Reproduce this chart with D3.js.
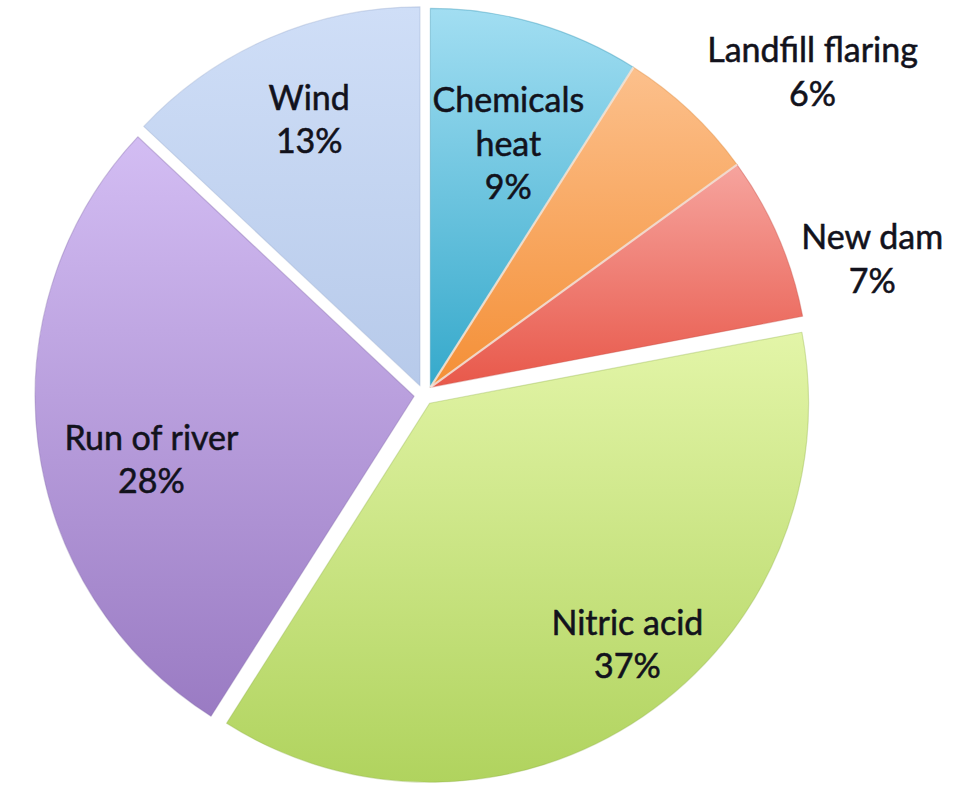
<!DOCTYPE html>
<html>
<head>
<meta charset="utf-8">
<script src="https://cdn.jsdelivr.net/npm/d3@7"></script>
<style>
  html, body { margin: 0; padding: 0; background: #ffffff; }
  svg { display: block; }
  .slice-label {
    font-family: Lato, "Open Sans", sans-serif; font-size: 34px;
    fill: #12121c; stroke: #12121c; stroke-width: 0.55px; paint-order: stroke;
  }
</style>
</head>
<body>
<script>
// Share of projects by type (percent)
const categories = ["Chemicals heat", "Landfill flaring", "New dam", "Nitric acid", "Run of river", "Wind"];
const shares = [9, 6, 7, 37, 28, 13];
// Label text lines for each category
const labelLines = [["Chemicals", "heat"], ["Landfill flaring"], ["New dam"], ["Nitric acid"], ["Run of river"], ["Wind"]];

// Fill gradients (top colour, bottom colour) per category
const fillTop = ["#a2def2", "#fcc08c", "#f6a49e", "#e3f5a8", "#d3bdf3", "#cfdef7"];
const fillBottom = ["#35a9cb", "#f48f36", "#e8584a", "#b0d35e", "#9a7bc3", "#b7caea"];
const edgeColor = ["#2f8fae", "#d9822f", "#c24c44", "#93b24c", "#7f64a6", "#98aacb"];

// Small slices stay joined and are pulled out together as one block
const joined = new Set(["Chemicals heat", "Landfill flaring", "New dam"]);

// Label placement: fraction along the slice's angle and radius factor
const labelAlong = [0.545, 0.83, 0.78, 0.46, 0.44, 0.52];
const labelRadius = [0.678, 1.31, 1.215, 0.82, 0.712, 0.765];

const W = 966, H = 796;
const cx = 424, cy = 395, R = 379, explode = 10;
const lineGap = 43.5;

const data = categories.map((c, i) => ({ name: c, value: shares[i], i }));

const svg = d3.select("body").append("svg")
  .attr("width", W).attr("height", H)
  .attr("viewBox", `0 0 ${W} ${H}`);

const defs = svg.append("defs");
data.forEach(d => {
  const g = defs.append("linearGradient")
    .attr("id", `grad-${d.i}`)
    .attr("x1", 0).attr("y1", 0).attr("x2", 0).attr("y2", 1);
  g.append("stop").attr("offset", "0%").attr("stop-color", fillTop[d.i]);
  g.append("stop").attr("offset", "100%").attr("stop-color", fillBottom[d.i]);
});

const pie = d3.pie().sort(null).value(d => d.value);
const arcs = pie(data);
const arc = d3.arc().innerRadius(0).outerRadius(R);

// explode direction: own bisector, or the bisector of the joined block
const joinedArcs = arcs.filter(a => joined.has(a.data.name));
const joinedMid = (d3.min(joinedArcs, a => a.startAngle) + d3.max(joinedArcs, a => a.endAngle)) / 2;
arcs.forEach(a => {
  const mid = joined.has(a.data.name) ? joinedMid : (a.startAngle + a.endAngle) / 2;
  a.ox = cx + explode * Math.sin(mid);
  a.oy = cy - explode * Math.cos(mid);
});

const slices = svg.append("g").attr("class", "slices")
  .selectAll("g").data(arcs).join("g")
  .attr("transform", a => `translate(${a.ox},${a.oy})`);

slices.append("path")
  .attr("d", arc)
  .attr("fill", a => `url(#grad-${a.data.i})`)
  .attr("stroke", a => edgeColor[a.data.i])
  .attr("stroke-opacity", 0.35)
  .attr("stroke-width", 1.2)
  .attr("stroke-linejoin", "round");

// light seams between the joined slices
svg.append("g").attr("class", "seams")
  .selectAll("line").data(joinedArcs.slice(1)).join("line")
  .attr("x1", a => a.ox).attr("y1", a => a.oy)
  .attr("x2", a => a.ox + R * Math.sin(a.startAngle))
  .attr("y2", a => a.oy - R * Math.cos(a.startAngle))
  .attr("stroke", "#f3e6dc")
  .attr("stroke-opacity", 0.85)
  .attr("stroke-width", 2.2);

// Labels
const labels = svg.append("g").attr("class", "labels")
  .selectAll("text").data(arcs).join("text")
  .attr("class", "slice-label")
  .attr("text-anchor", "middle")
  .attr("transform", a => {
    const ang = a.startAngle + labelAlong[a.data.i] * (a.endAngle - a.startAngle);
    const r = labelRadius[a.data.i] * R;
    return `translate(${a.ox + r * Math.sin(ang)},${a.oy - r * Math.cos(ang)})`;
  });

labels.each(function (a) {
  const lines = labelLines[a.data.i].concat([`${a.data.value}%`]);
  const t = d3.select(this);
  const y0 = -((lines.length - 1) * lineGap) / 2;
  lines.forEach((ln, k) => {
    t.append("tspan")
      .attr("x", 0)
      .attr("y", y0 + k * lineGap)
      .attr("dominant-baseline", "central")
      .text(ln);
  });
});
</script>
</body>
</html>
